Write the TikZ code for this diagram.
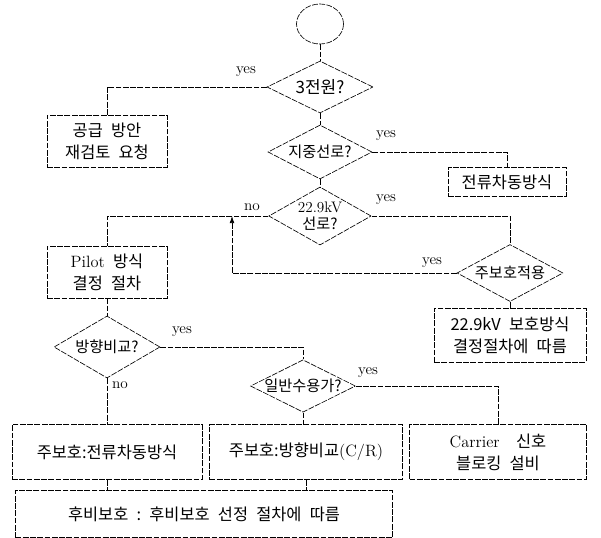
\documentclass[tikz,border=0pt]{standalone}
\usepackage{fontspec}
\newfontfamily\kr{Noto Sans CJK KR}
\usetikzlibrary{shapes.geometric,arrows.meta}
\begin{document}
\begin{tikzpicture}[x=0.3mm,y=-0.3mm,
  line/.style={draw,line width=0.55pt,dash pattern=on 5pt off 1.2pt},
  box/.style={line,rectangle,align=center,inner sep=2pt,font=\kr\fontsize{14}{19}\selectfont},
  decision/.style={line,diamond,aspect=2,inner sep=0pt,align=center,font=\kr\fontsize{13}{15}\selectfont},
  lbl/.style={font=\fontsize{13}{15}\selectfont}]
\useasboundingbox (0,0) rectangle (601,537);
% start and upper decisions
\node[line,ellipse,minimum width=1.41cm,minimum height=1.2cm] (start) at (320,24) {};
\node[decision,minimum width=3.18cm,minimum height=1.56cm,font=\kr\fontsize{14.5}{16}\selectfont] (three) at (320,87) {3전원?};
\node[decision,minimum width=3.12cm,minimum height=1.62cm] (underground) at (320,152) {지중선로?};
\node[decision,minimum width=3.06cm,minimum height=1.74cm] (v22) at (320,216) {{\rmfamily 22.9kV}\\선로?};
\node[decision,minimum width=3.18cm,minimum height=1.71cm] (mainpr) at (510,273) {주보호적용};
\node[box,minimum width=3.6cm,minimum height=1.56cm] (review) at (107,141) {공급\enspace 방안\\재검토\enspace 요청};
\node[box,minimum width=3.54cm,minimum height=0.87cm] (cdiff) at (507,182) {전류차동방식};
\node[box,minimum width=4.56cm,minimum height=1.62cm] (v22box) at (510,335) {22.9kV\enspace 보호방식\\결정절차에\enspace 따름};
% lower part
\node[box,minimum width=3.6cm,minimum height=1.56cm] (pilot) at (107,272) {{\rmfamily Pilot}\enspace 방식\\결정\enspace 절차};
\node[decision,minimum width=3.18cm,minimum height=1.86cm] (dircmp) at (107,347) {방향비교?};
\node[decision,minimum width=3.09cm,minimum height=1.56cm] (general) at (303,386) {일반수용가?};
\node[box,minimum width=5.7cm,minimum height=1.65cm] (main1) at (107,452) {주보호:전류차동방식};
\node[box,minimum width=5.79cm,minimum height=1.65cm] (main2) at (306,452) {주보호:방향비교{\rmfamily (C/R)}};
\node[box,minimum width=5.31cm,minimum height=1.65cm] (carrier) at (498,452) {{\rmfamily Carrier}\quad 신호\\블로킹\enspace 설비};
\node[box,minimum width=11.31cm,minimum height=1.41cm] (backup) at (204,514) {후비보호\enspace :\enspace 후비보호\enspace 선정\enspace 절차에\enspace 따름};
% labels
\node[lbl] (yesA) at (246,72) {yes};
\node[lbl] (yesB) at (386,136) {yes};
\node[lbl] (yesC) at (386,200) {yes};
\node[lbl] (noA) at (252,207) {no};
\node[lbl] (yesD) at (432,263) {yes};
\node[lbl] (yesE) at (182,332) {yes};
\node[lbl] (noB) at (120,385) {no};
\node[lbl] (yesF) at (368,373) {yes};
% connectors
\coordinate (merge) at (232,216);
\foreach \a/\b in {start/three,three/underground,underground/v22,mainpr/v22box,pilot/dircmp,dircmp/main1}
  \draw[line] (\a.south) -- (\b.north);
\draw[line] (three.west) -| (review.north);
\draw[line] (underground.east) -| (cdiff.north);
\draw[line] (v22.east) -| (mainpr.north);
\draw[line] (v22.west) -| (pilot.north);
\draw[line,-{Latex[length=6pt,width=4pt]}] (mainpr.west) -| (merge);
\draw[line] (dircmp.east) -| (general.north);
\draw[line] (general.east) -| (carrier.north);
\draw[line] (general.south) -- (general.south |- main2.north);
\foreach \a in {main1,main2}
  \draw[line] (\a.south) -- (\a.south |- backup.north);
\end{tikzpicture}
\end{document}
